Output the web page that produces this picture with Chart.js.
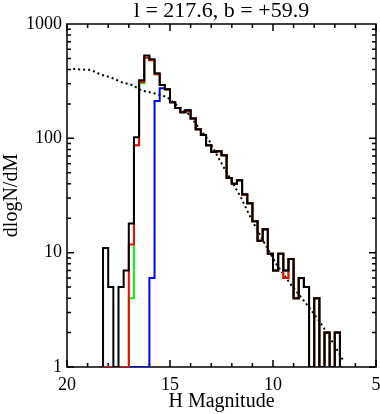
<!DOCTYPE html>
<html>
<head>
<meta charset="utf-8">
<script src="https://cdn.jsdelivr.net/npm/chart.js@4.4.0/dist/chart.umd.min.js"></script>
<style>
  html, body { margin: 0; padding: 0; background: #fff; }
</style>
</head>
<body>
<canvas id="chart" width="380" height="414"></canvas>
<script>
// Bin centres in H magnitude (bins are 0.25 mag wide)
const binMags = [18.375, 18.125, 17.875, 17.625, 17.375, 17.125, 16.875, 16.625,
  16.375, 16.125, 15.875, 15.625, 15.375, 15.125, 14.875, 14.625,
  14.375, 14.125, 13.875, 13.625, 13.375, 13.125, 12.875, 12.625,
  12.375, 12.125, 11.875, 11.625, 11.375, 11.125, 10.875, 10.625,
  10.375, 10.125, 9.875, 9.625, 9.375, 9.125, 8.875, 8.625,
  8.375, 8.125, 7.875, 7.625, 7.375, 7.125, 6.875, 6.625];

// dlogN/dM per bin
const blackCounts = [0, 11, 5, 0, 5, 7, 18, 102,
  322, 529, 492, 371, 293, 269, 207, 184,
  169, 176, 149, 120, 107, 87, 76, 77,
  71, 45, 40, 43, 32.5, 27, 18.8, 12.7,
  16, 9.8, 7, 9.8, 7, 8.8, 4, 6,
  5, 0, 4, 0, 2, 0, 2, 0];
const redCounts = [0, 0, 0, 0, 0, 0, 11.8, 87,
  311, 508, 482, 363, 293, 269, 207, 184,
  169, 172, 149, 120, 107, 87, 76, 77,
  71, 45, 40, 43, 31.9, 27, 18.8, 12.7,
  16, 9.8, 7, 9.8, 6, 8.8, 4, 6,
  5, 0, 4, 0, 2, 0, 2, 0];
const greenCounts = [0, 0, 0, 0, 0, 0, 4, 87,
  303, 508, 482, 363, 293, 269, 207, 184,
  169, 172, 149, 120, 107, 87, 76, 77,
  71, 45, 40, 43, 31.9, 27, 18.8, 12.7,
  16, 9.8, 7, 9.8, 6, 8.8, 4, 6,
  5, 0, 4, 0, 2, 0, 2, 0];
const blueCounts = [0, 0, 0, 0, 0, 0, 0, 0,
  0, 0, 6, 212, 274, 269, 207, 184,
  169, 176, 149, 120, 107, 87, 76, 77,
  71, 45, 40, 43, 32.5, 27, 18.8, 12.7,
  16, 9.8, 7, 9.8, 7, 8.8, 4, 6,
  5, 0, 4, 0, 2, 0, 2, 0];

// dotted model curve
const modelMags = [19.7, 18.84, 18.35, 17.85, 17.33, 16.85, 16.36, 15.88, 15.36, 15.15,
  14.59, 14.10, 13.62, 13.08, 12.60, 12.11, 11.58, 11.09, 10.61, 9.83,
  9.11, 8.62, 8.09, 7.60, 7.12, 6.59];
const modelVals = [404, 396, 361, 340, 309, 293, 261, 251, 236, 230,
  190, 163, 125, 94, 65, 45.5, 31, 20.3, 14.0, 7.9,
  5.2, 4.05, 3.05, 2.3, 1.67, 1.14];

const xTicks = [20, 15, 10, 5];
const yTicks = [1, 10, 100, 1000];
const titleText = 'l = 217.6, b = +59.9';

const serif = "'Liberation Serif', 'Times New Roman', serif";
Chart.defaults.font.family = serif;
Chart.defaults.color = '#000';

const yMin = 1;

// zero bins sit on the bottom axis, like the original plot
function histo(counts) {
  return binMags.map((m, i) => ({ x: m, y: counts[i] > 0 ? counts[i] : yMin }));
}

function stepSet(counts, color) {
  return {
    data: histo(counts),
    borderColor: color,
    borderWidth: 2,
    pointRadius: 0,
    stepped: 'middle',
    fill: false
  };
}

// box with inward ticks on all four sides
const frame = {
  id: 'frame',
  beforeDatasetsDraw(chart) {
    const { ctx, chartArea: a, scales: { x, y } } = chart;
    ctx.save();
    ctx.strokeStyle = '#000';
    ctx.lineWidth = 1.5;
    ctx.strokeRect(a.left, a.top, a.right - a.left, a.bottom - a.top);
    ctx.beginPath();
    for (let m = 5; m <= 20; m++) {
      const px = x.getPixelForValue(m);
      const len = m % 5 === 0 ? 7 : 4;
      ctx.moveTo(px, a.bottom); ctx.lineTo(px, a.bottom - len);
      ctx.moveTo(px, a.top); ctx.lineTo(px, a.top + len);
    }
    for (let d = 1; d < 1000; d *= 10) {
      for (let k = 1; k < 10; k++) {
        const py = y.getPixelForValue(d * k);
        const len = k === 1 ? 7 : 4;
        ctx.moveTo(a.left, py); ctx.lineTo(a.left + len, py);
        ctx.moveTo(a.right, py); ctx.lineTo(a.right - len, py);
      }
    }
    ctx.stroke();
    ctx.restore();
  }
};

const noSidePad = s => { s.paddingLeft = 0; s.paddingRight = 0; };

new Chart(document.getElementById('chart'), {
  type: 'line',
  data: {
    datasets: [
      stepSet(blackCounts, '#000000'),
      stepSet(redCounts, '#ff0000'),
      stepSet(greenCounts, '#00ff00'),
      stepSet(blueCounts, '#0000ff'),
      {
        data: modelMags.map((m, i) => ({ x: m, y: modelVals[i] })),
        borderColor: '#000',
        borderWidth: 2,
        borderDash: [2, 3],
        pointRadius: 0,
        fill: false
      }
    ]
  },
  options: {
    responsive: false,
    animation: false,
    devicePixelRatio: 1,
    layout: { padding: { top: 0, right: 4, bottom: 0, left: 0 } },
    plugins: {
      legend: { display: false },
      tooltip: { enabled: false },
      title: { display: false }
    },
    scales: {
      x: {
        type: 'linear',
        reverse: true,
        min: 5,
        max: 20,
        afterBuildTicks: s => { s.ticks = xTicks.map(v => ({ value: v })); },
        afterFit: s => { s.height = 47; noSidePad(s); },
        grid: { display: false, drawTicks: false },
        border: { display: false },
        ticks: { font: { size: 18 }, padding: 7, maxRotation: 0, autoSkip: false },
        title: { display: true, text: 'H Magnitude', font: { size: 20 }, padding: { top: 0, bottom: 0 } }
      },
      // top axis only carries the plot title, centred over the plot box
      xTop: {
        type: 'linear',
        position: 'top',
        reverse: true,
        min: 5,
        max: 20,
        afterFit: s => { s.height = 24; noSidePad(s); },
        grid: { display: false, drawTicks: false },
        border: { display: false },
        ticks: { display: false },
        title: {
          display: true,
          text: titleText,
          font: { size: 22, lineHeight: 1 },
          padding: { top: 0, bottom: 0 }
        }
      },
      y: {
        type: 'logarithmic',
        min: 1,
        max: 1000,
        afterBuildTicks: s => { s.ticks = yTicks.map(v => ({ value: v })); },
        afterFit: s => { s.width = 67; },
        grid: { display: false, drawTicks: false },
        border: { display: false },
        ticks: { font: { size: 18 }, padding: 5, autoSkip: false, callback: v => String(v) },
        title: { display: true, text: 'dlogN/dM', font: { size: 20 }, padding: { top: 0, bottom: 0 } }
      }
    }
  },
  plugins: [frame]
});
</script>
</body>
</html>
